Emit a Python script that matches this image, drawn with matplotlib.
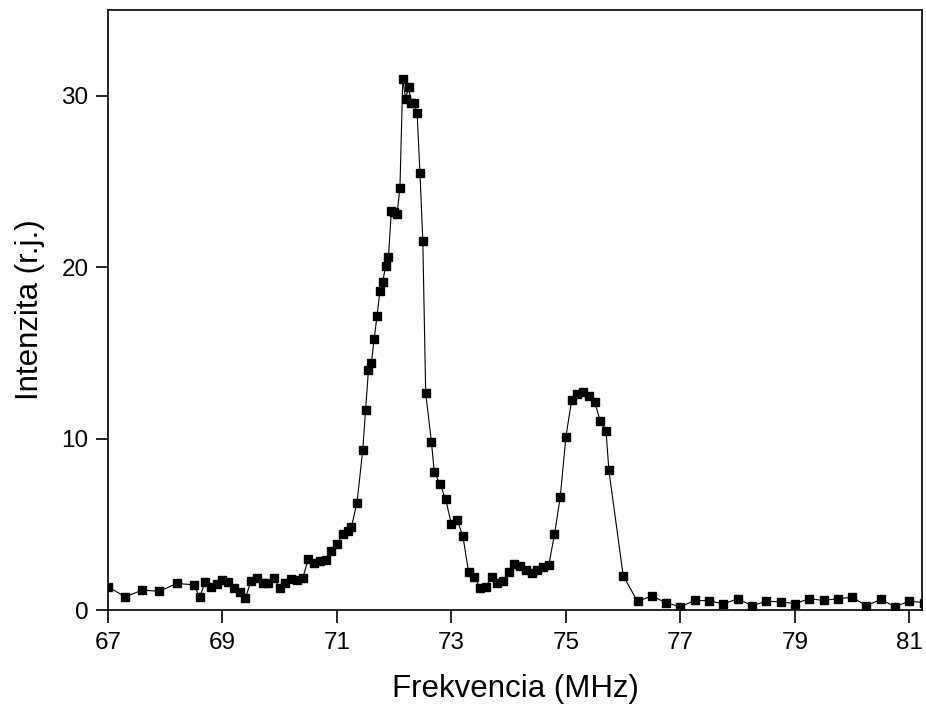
import matplotlib
matplotlib.use('Agg')
import matplotlib.pyplot as plt
import numpy as np

# ------------------- DATA -------------------
freq = [67.0, 67.3, 67.6, 67.9, 68.2, 68.5, 68.6, 68.7, 68.8, 68.9,
        69.0, 69.1, 69.2, 69.3, 69.4, 69.5, 69.6, 69.7, 69.8, 69.9,
        70.0, 70.1, 70.2, 70.3, 70.4, 70.5, 70.6, 70.7, 70.8, 70.9,
        71.0, 71.1, 71.2, 71.25, 71.35, 71.45, 71.5, 71.55, 71.6, 71.65,
        71.7, 71.75, 71.8, 71.85, 71.9, 71.95, 72.0, 72.05, 72.1, 72.15,
        72.2, 72.25, 72.3, 72.35, 72.4, 72.45, 72.5, 72.55, 72.65, 72.7,
        72.8, 72.9, 73.0, 73.1, 73.2, 73.3, 73.4, 73.5, 73.6, 73.7,
        73.8, 73.9, 74.0, 74.1, 74.2, 74.3, 74.4, 74.5, 74.6, 74.7,
        74.8, 74.9, 75.0, 75.1, 75.2, 75.3, 75.4, 75.5, 75.6, 75.7,
        75.75, 76.0, 76.25, 76.5, 76.75, 77.0, 77.25, 77.5, 77.75, 78.0,
        78.25, 78.5, 78.75, 79.0, 79.25, 79.5, 79.75, 80.0, 80.25, 80.5,
        80.75, 81.0, 81.25]

intens = [1.36, 0.77, 1.16, 1.09, 1.55, 1.47, 0.77, 1.61, 1.32, 1.51,
          1.75, 1.61, 1.26, 1.03, 0.68, 1.71, 1.88, 1.55, 1.59, 1.88,
          1.26, 1.55, 1.81, 1.75, 1.85, 2.97, 2.72, 2.85, 2.91, 3.45,
          3.83, 4.43, 4.62, 4.82, 6.25, 9.32, 11.65, 13.98, 14.40, 15.82,
          17.16, 18.58, 19.16, 20.05, 20.62, 23.26, 23.2, 23.08, 24.64, 31.0,
          29.8, 30.5, 29.6, 29.55, 29.0, 25.5, 21.5, 12.66, 9.80, 8.06,
          7.34, 6.45, 4.99, 5.24, 4.31, 2.20, 1.94, 1.26, 1.36, 1.94,
          1.6, 1.71, 2.24, 2.69, 2.55, 2.34, 2.14, 2.31, 2.49, 2.62,
          4.41, 6.58, 10.12, 12.25, 12.58, 12.71, 12.48, 12.13, 11.03, 10.46,
          8.15, 2.0, 0.5, 0.82, 0.42, 0.19, 0.56, 0.54, 0.35, 0.66,
          0.25, 0.51, 0.48, 0.37, 0.66, 0.56, 0.66, 0.74, 0.25, 0.62,
          0.19, 0.52, 0.43]

xticks = [67, 69, 71, 73, 75, 77, 79, 81]
yticks = [0, 10, 20, 30]

# ------------------- PLOT -------------------
plt.rcParams['font.family'] = ['Liberation Sans', 'DejaVu Sans']

fig = plt.figure(figsize=(9.26, 7.08), dpi=100)
ax = fig.add_axes([0.1166, 0.1384, 0.8791, 0.8475])

ax.plot(freq, intens, '-', color='black', lw=0.8,
        marker='s', ms=5.5, mfc='black', mec='black')

ax.set_xlim(67, 81.22)
ax.set_ylim(0, 35)
ax.set_xticks(xticks)
ax.set_yticks(yticks)

for s in ax.spines.values():
    s.set_linewidth(1.2)

ax.tick_params(axis='both', direction='out', length=9, width=1.2,
               labelsize=17.5)
ax.tick_params(axis='x', pad=7)
ax.tick_params(axis='y', pad=5)

ax.set_xlabel('Frekvencia (MHz)', fontsize=22.5, labelpad=14)
ax.set_ylabel('Intenzita (r.j.)', fontsize=22.5, labelpad=12)

fig.savefig('out.png', dpi=100)
